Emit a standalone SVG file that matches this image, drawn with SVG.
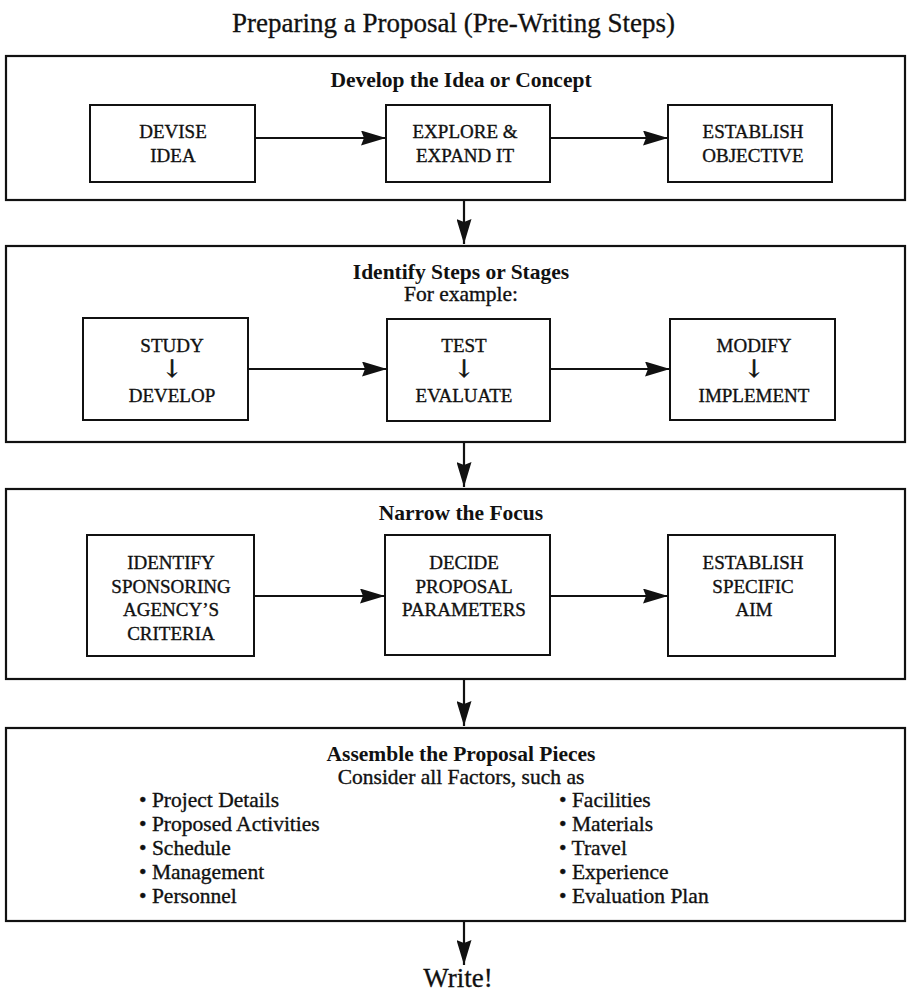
<svg xmlns="http://www.w3.org/2000/svg" width="907" height="995" viewBox="0 0 907 995">
  <style>
    text { font-family: "Liberation Serif", "Times New Roman", "DejaVu Serif", serif; fill: #111; }
    .title { font-size: 27px; text-anchor: middle; stroke: #111; stroke-width: 0.3; }
    .head { font-size: 21.5px; font-weight: bold; text-anchor: middle; }
    .sub { font-size: 21.5px; text-anchor: middle; stroke: #111; stroke-width: 0.35; }
    .box { font-size: 19px; text-anchor: middle; stroke: #111; stroke-width: 0.35; }
    .arr { font-family: "DejaVu Serif", "DejaVu Sans", serif; font-size: 24px; text-anchor: middle; stroke: #111; stroke-width: 0.6; }
    .item { font-size: 21.5px; stroke: #111; stroke-width: 0.35; }
    .panel { fill: #fff; stroke: #111; stroke-width: 2.2; }
    .step { fill: #fff; stroke: #111; stroke-width: 2; }
    .conn { stroke: #111; stroke-width: 2.2; fill: none; marker-end: url(#head); }
  </style>
  <defs>
    <marker id="head" markerUnits="userSpaceOnUse" markerWidth="26" markerHeight="15" viewBox="0 0 26 15" refX="25" refY="7.5" orient="auto">
      <path d="M0,0 L25,7.5 L0,15 L3,7.5 Z" fill="#111"/>
    </marker>
  </defs>
  <rect width="907" height="995" fill="#fff"/>

  <text class="title" x="453.5" y="32">Preparing a Proposal (Pre-Writing Steps)</text>

  <!-- Stage 1 -->
  <g id="develop-idea">
    <rect class="panel" x="6" y="56" width="899" height="144"/>
    <text class="head" x="461" y="87">Develop the Idea or Concept</text>
  </g>
  <g id="devise-idea">
    <rect class="step" x="90" y="105" width="165" height="77"/>
    <text class="box" x="173" y="137.5">DEVISE</text>
    <text class="box" x="173" y="161.5">IDEA</text>
  </g>
  <g id="explore-expand">
    <rect class="step" x="386" y="105" width="164" height="77"/>
    <text class="box" x="465" y="137.5">EXPLORE &amp;</text>
    <text class="box" x="465" y="161.5">EXPAND IT</text>
  </g>
  <g id="establish-objective">
    <rect class="step" x="668" y="105" width="164" height="77"/>
    <text class="box" x="753" y="137.5">ESTABLISH</text>
    <text class="box" x="753" y="161.5">OBJECTIVE</text>
  </g>

  <!-- Stage 2 -->
  <g id="identify-steps">
    <rect class="panel" x="6" y="246" width="899" height="196"/>
    <text class="head" x="461" y="279">Identify Steps or Stages</text>
    <text class="sub" x="461" y="301">For example:</text>
  </g>
  <g id="study-develop">
    <rect class="step" x="83" y="318" width="165" height="102"/>
    <text class="box" x="172" y="352">STUDY</text>
    <text class="arr" x="172" y="377">↓</text>
    <text class="box" x="172" y="401.5">DEVELOP</text>
  </g>
  <g id="test-evaluate">
    <rect class="step" x="387" y="319" width="163" height="102"/>
    <text class="box" x="464" y="352">TEST</text>
    <text class="arr" x="464" y="377">↓</text>
    <text class="box" x="464" y="401.5">EVALUATE</text>
  </g>
  <g id="modify-implement">
    <rect class="step" x="670" y="319" width="165" height="101"/>
    <text class="box" x="754" y="352">MODIFY</text>
    <text class="arr" x="754" y="377">↓</text>
    <text class="box" x="754" y="401.5">IMPLEMENT</text>
  </g>

  <!-- Stage 3 -->
  <g id="narrow-focus">
    <rect class="panel" x="6" y="489" width="899" height="190"/>
    <text class="head" x="461" y="520">Narrow the Focus</text>
  </g>
  <g id="sponsor-criteria">
    <rect class="step" x="87" y="535" width="167" height="121"/>
    <text class="box" x="171" y="568.5">IDENTIFY</text>
    <text class="box" x="171" y="592.5">SPONSORING</text>
    <text class="box" x="171" y="616">AGENCY’S</text>
    <text class="box" x="171" y="640">CRITERIA</text>
  </g>
  <g id="proposal-parameters">
    <rect class="step" x="385" y="535" width="165" height="120"/>
    <text class="box" x="464" y="568.5">DECIDE</text>
    <text class="box" x="464" y="592.5">PROPOSAL</text>
    <text class="box" x="464" y="616">PARAMETERS</text>
  </g>
  <g id="specific-aim">
    <rect class="step" x="668" y="535" width="167" height="121"/>
    <text class="box" x="753" y="568.5">ESTABLISH</text>
    <text class="box" x="753" y="592.5">SPECIFIC</text>
    <text class="box" x="754" y="616">AIM</text>
  </g>

  <!-- Stage 4 -->
  <g id="assemble-pieces">
    <rect class="panel" x="6" y="728" width="899" height="193"/>
    <text class="head" x="461" y="760.5">Assemble the Proposal Pieces</text>
    <text class="sub" x="461" y="784">Consider all Factors, such as</text>
    <text class="item" x="139" y="807">• Project Details</text>
    <text class="item" x="139" y="831">• Proposed Activities</text>
    <text class="item" x="139" y="855">• Schedule</text>
    <text class="item" x="139" y="879">• Management</text>
    <text class="item" x="139" y="903">• Personnel</text>
    <text class="item" x="559" y="807">• Facilities</text>
    <text class="item" x="559" y="831">• Materials</text>
    <text class="item" x="559" y="855">• Travel</text>
    <text class="item" x="559" y="879">• Experience</text>
    <text class="item" x="559" y="903">• Evaluation Plan</text>
  </g>

  <g id="write">
    <text class="title" x="458" y="987">Write!</text>
  </g>

  <!-- Connectors -->
  <g id="connectors">
    <line class="conn" x1="255" y1="138" x2="386" y2="138"/>
    <line class="conn" x1="550" y1="138" x2="668" y2="138"/>
    <line class="conn" x1="248" y1="369" x2="387" y2="369"/>
    <line class="conn" x1="550" y1="369" x2="670" y2="369"/>
    <line class="conn" x1="254" y1="596" x2="385" y2="596"/>
    <line class="conn" x1="550" y1="596" x2="668" y2="596"/>
    <line class="conn" x1="464" y1="200" x2="464" y2="244"/>
    <line class="conn" x1="464" y1="442" x2="464" y2="487"/>
    <line class="conn" x1="464" y1="679" x2="464" y2="726"/>
    <line class="conn" x1="464" y1="921" x2="464" y2="965"/>
  </g>
</svg>
